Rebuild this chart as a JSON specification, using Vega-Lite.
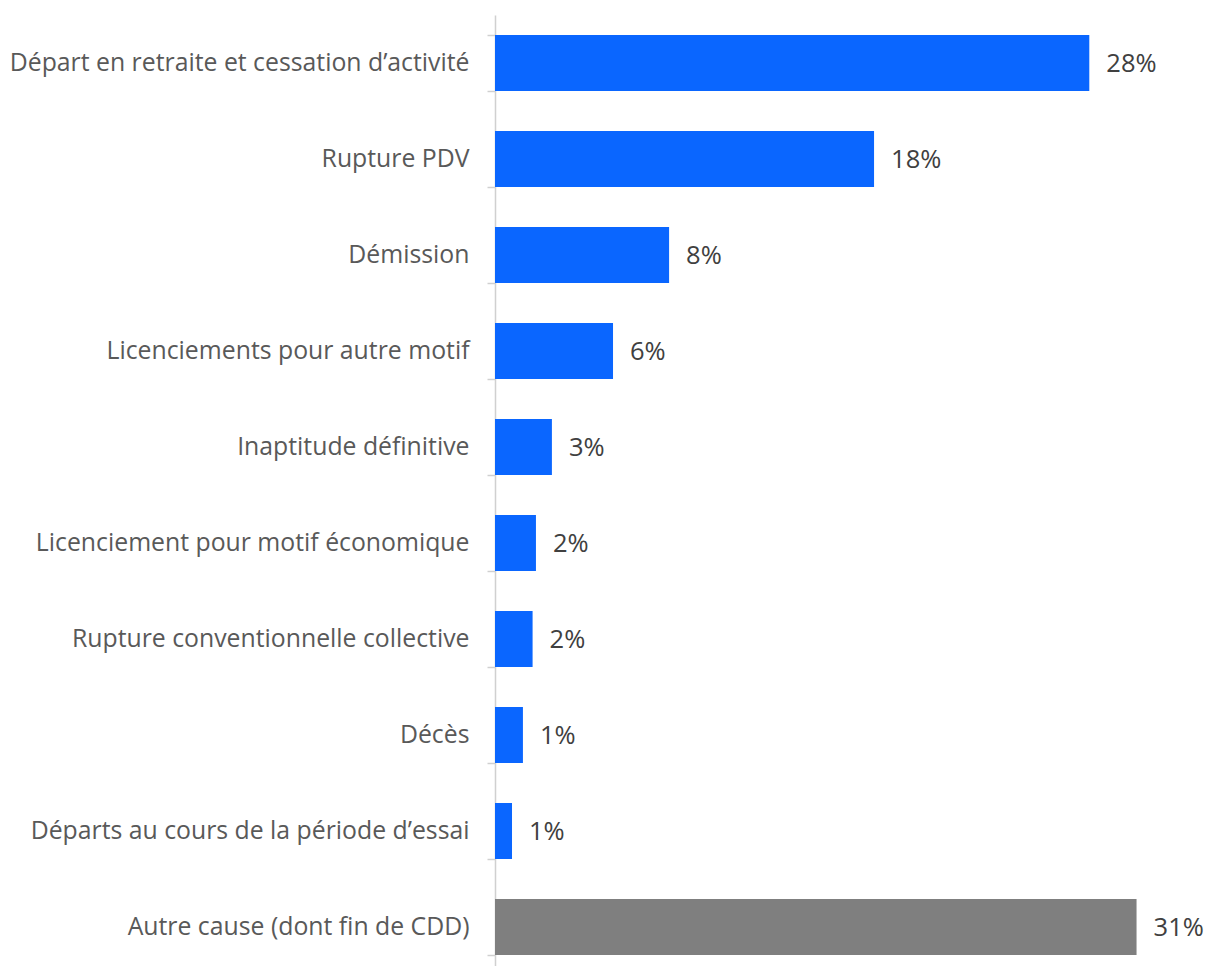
{
  "$schema": "https://vega.github.io/schema/vega-lite/v6.json",
  "autosize": {"type": "none"},
  "width": 714,
  "height": 960,
  "padding": {"left": 495, "top": 15, "right": 0, "bottom": 0},
  "background": "white",
  "config": {"view": {"stroke": null}, "font": "Open Sans"},
  "data": {
    "values": [
      {"cause": "Départ en retraite et cessation d’activité", "value": 28.3, "label": "28%", "groupe": "a"},
      {"cause": "Rupture PDV", "value": 18.05, "label": "18%", "groupe": "a"},
      {"cause": "Démission", "value": 8.29, "label": "8%", "groupe": "a"},
      {"cause": "Licenciements pour autre motif", "value": 5.62, "label": "6%", "groupe": "a"},
      {"cause": "Inaptitude définitive", "value": 2.71, "label": "3%", "groupe": "a"},
      {"cause": "Licenciement pour motif  économique", "value": 1.95, "label": "2%", "groupe": "a"},
      {"cause": "Rupture conventionnelle collective", "value": 1.79, "label": "2%", "groupe": "a"},
      {"cause": "Décès", "value": 1.33, "label": "1%", "groupe": "a"},
      {"cause": "Départs au cours de la période d’essai", "value": 0.81, "label": "1%", "groupe": "a"},
      {"cause": "Autre cause (dont fin de CDD)", "value": 30.55, "label": "31%", "groupe": "b"}
    ]
  },
  "encoding": {
    "y": {
      "field": "cause", "type": "nominal", "sort": null, "title": null,
      "scale": {"paddingInner": 0.417, "paddingOuter": 0.2085},
      "axis": {
        "domainColor": "#d0d0d0", "domainWidth": 1.5,
        "tickColor": "#d0d0d0", "tickWidth": 1.5, "tickSize": 8, "tickBand": "extent",
        "labelFontSize": 24.8, "labelColor": "#595959", "labelPadding": 18,
        "labelLimit": 600, "labelFont": "Open Sans"
      }
    },
    "x": {
      "field": "value", "type": "quantitative", "title": null,
      "scale": {"domain": [0, 34], "nice": false},
      "axis": null
    }
  },
  "layer": [
    {
      "mark": {"type": "bar"},
      "encoding": {
        "color": {
          "field": "groupe", "type": "nominal", "legend": null,
          "scale": {"domain": ["a", "b"], "range": ["#0A66FF", "#7F7F7F"]}
        }
      }
    },
    {
      "mark": {"type": "text", "align": "left", "baseline": "middle", "dx": 17, "dy": 1, "fontSize": 25.5, "color": "#404040", "font": "Open Sans"},
      "encoding": {"text": {"field": "label"}}
    }
  ]
}
